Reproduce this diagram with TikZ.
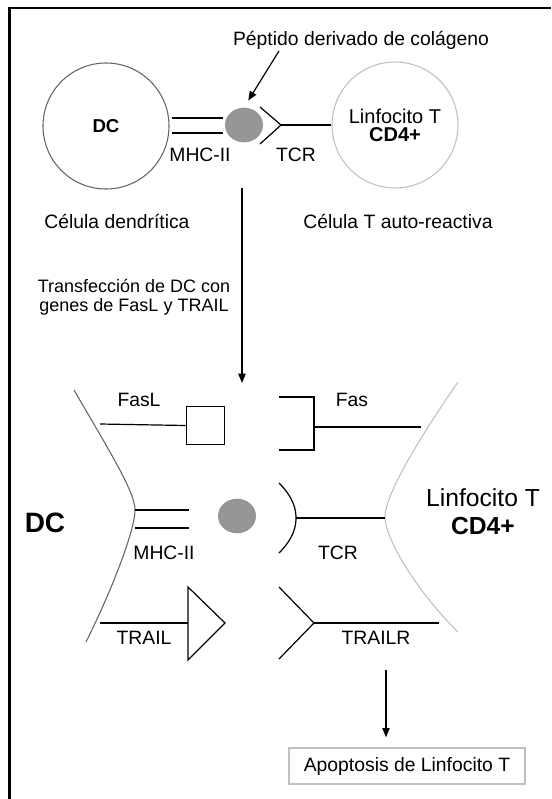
\documentclass[tikz,border=0pt]{standalone}
\usepackage{fontspec}
\setmainfont{Liberation Sans}
\usetikzlibrary{positioning, shapes, arrows.meta}
\definecolor{dcgrey}{RGB}{100,100,100}
\definecolor{tgrey}{RGB}{192,192,192}
\definecolor{pepfill}{RGB}{150,150,153}
\tikzset{
  tag/.style={inner sep=1pt, font=\fontsize{14.5}{17}\selectfont, align=center},
  bigtag/.style={inner sep=1pt, font=\fontsize{18.5}{21}\selectfont, align=center},
  dccell/.style={circle, draw=dcgrey, line width=0.8pt, minimum size=94.5pt, inner sep=0pt, font=\fontsize{14}{16}\selectfont\bfseries},
  tcell/.style={circle, draw=tgrey, line width=0.8pt, minimum size=94.5pt, inner sep=0pt, align=center, font=\fontsize{15}{13.5}\selectfont},
  peptide/.style={ellipse, fill=pepfill, minimum width=28.5pt, minimum height=26pt, inner sep=0pt},
  receptor/.style={line width=0.9pt},
  membrane/.style={line width=0.8pt},
  arrowline/.style={-{Triangle[length=7pt,width=5.5pt]}, line width=0.9pt},
  resultbox/.style={draw=tgrey, line width=1pt, minimum width=177pt, minimum height=27pt, inner sep=2pt, font=\fontsize{14.5}{17}\selectfont},
}
\begin{document}
\begin{tikzpicture}[x=0.75pt, y=-0.75pt]
\useasboundingbox (0,0) rectangle (551,799);
\draw[line width=1.6pt] (9.5,799) -- (9.5,8) -- (551,8);

% antes de la transfeccion
\node[dccell] (dc1) at (106,126) {DC};
\node[tcell] (tc1) at (395,125) {Linfocito T\\\textbf{CD4+}};
\node[peptide] (pep1) at (244,125) {};
\draw[receptor] (172,118) -- (223,118);
\draw[receptor] (172,133) -- (223,133);
\coordinate (tcr1) at (281,125);
\draw[receptor] (260,107) -- (tcr1) -- (260,144);
\draw[receptor] (tcr1) -- (tc1.west);
\node[tag] (mhclab1) at (200,155) {MHC-II};
\node[tag] (tcrlab1) at (296,155) {TCR};
\node[tag] (peplab) at (361,40) {Péptido derivado de colágeno};
\coordinate (peptail) at (279,51);
\draw[arrowline, shorten >=6pt] (peptail) -- (pep1.north);
\node[tag] (dclab) at (117,221) {Célula dendrítica};
\node[tag] (tclab) at (398,221) {Célula T auto-reactiva};

\coordinate (steptop) at (242,188);
\coordinate (stepend) at (242,383);
\draw[arrowline] (steptop) -- (stepend);
\node[tag, font=\fontsize{13.5}{14.5}\selectfont] (transf) at (134,297) {Transfección de DC con\\genes de FasL y TRAIL};

% despues de la transfeccion
\draw[membrane, dcgrey] (74,390) .. controls (110,452) and (135,492) .. (135,510)
  .. controls (135,530) and (112,590) .. (86,642);
\draw[membrane, tgrey] (458,382) .. controls (418,440) and (385,495) .. (385,517)
  .. controls (385,540) and (420,595) .. (458,632);
\node[bigtag, font=\fontsize{21}{24}\selectfont\bfseries] (dc2) at (45,523) {DC};
\node[bigtag] (tc2) at (483,512) {Linfocito T\\\textbf{CD4+}};

\node[draw, line width=0.9pt, minimum width=29pt, minimum height=28pt, inner sep=0pt] (fasl) at (205.5,425.5) {};
\draw[receptor] (100,424) -- (fasl.west);
\node[tag] (fasllab) at (139,400) {FasL};
\draw[receptor] (279,397) -| (314,450) -- (279,450);
\coordinate (fas) at (314,427);
\draw[receptor] (fas) -- (421,427);
\node[tag] (faslab) at (352,400) {Fas};

\draw[receptor] (135,510) -- (189,510);
\draw[receptor] (135,528) -- (189,528);
\node[tag] (mhclab2) at (164,553) {MHC-II};
\node[peptide] (pep2) at (237,516) {};
\coordinate (tcr2) at (296,518);
\draw[receptor] (279,483) .. controls (294,498) and (296,510) .. (tcr2)
  .. controls (296,526) and (294,538) .. (279,553);
\draw[receptor] (tcr2) -- (385,518);
\node[tag] (tcrlab2) at (338,553) {TCR};

\draw[receptor] (188,587) -- (225,623) -- (188,660) -- cycle;
\draw[receptor] (100,623) -- (188,623);
\node[tag] (traillab) at (144,638) {TRAIL};
\coordinate (trailr) at (314,623);
\draw[receptor] (279,587) -- (trailr) -- (279,659);
\draw[receptor] (trailr) -- (439,623);
\node[tag] (trailrlab) at (376,638) {TRAILR};

\node[resultbox] (apop) at (407,766) {Apoptosis de Linfocito T};
\coordinate (apoptop) at (386,670);
\draw[arrowline, shorten >=7.5pt] (apoptop) -- (apoptop |- apop.north);
\end{tikzpicture}
\end{document}
